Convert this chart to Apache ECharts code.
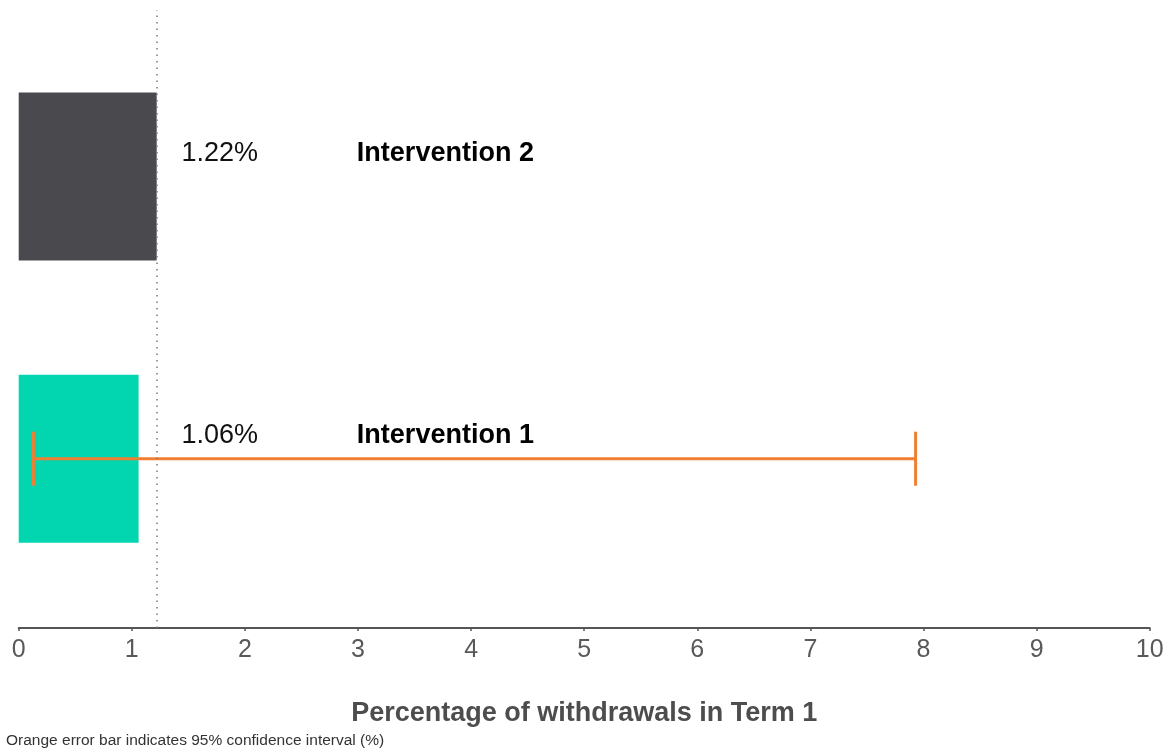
<!DOCTYPE html>
<html>
<head>
<meta charset="utf-8">
<title>Percentage of withdrawals in Term 1</title>
<script src="https://cdn.jsdelivr.net/npm/echarts@6/dist/echarts.min.js"></script>
<style>
  html, body { margin: 0; padding: 0; background: #ffffff; }
  #chart { width: 1172px; height: 752px; }
</style>
</head>
<body>
<div id="chart"></div>
<script>
// Groups, bottom to top
const categories = ['Intervention 1', 'Intervention 2'];
// Withdrawal rate (%) per group
const values = [1.06, 1.22];
// 95% confidence interval (%) — only shown for Intervention 1
const ciLow = [0.13, null];
const ciHigh = [7.93, null];
// Reference line at the Intervention 2 rate
const referenceValue = 1.22;
// X axis ticks
const xTicks = [0, 1, 2, 3, 4, 5, 6, 7, 8, 9, 10];

const barColors = ['#02D6B1', '#4A494E'];
const errorColor = '#F07F33';
const fontFamily = 'Liberation Sans, Arial, sans-serif';

// Label anchor positions along the x axis (data units)
const valueLabelX = 1.44;
const nameLabelX = 2.99;

const rows = categories.map((name, i) => ({
  name: name,
  pos: i + 1,
  value: values[i],
  low: ciLow[i],
  high: ciHigh[i]
}));

const chart = echarts.init(document.getElementById('chart'), null, { renderer: 'canvas' });

const option = {
  animation: false,
  backgroundColor: '#ffffff',
  textStyle: { fontFamily: fontFamily },
  grid: { left: 18.7, right: 22.3, top: 10, bottom: 124, containLabel: false },
  xAxis: {
    type: 'value',
    min: xTicks[0],
    max: xTicks[xTicks.length - 1],
    interval: 1,
    splitLine: { show: false },
    axisLine: { show: true, lineStyle: { color: '#555555', width: 2 } },
    axisTick: { show: true, length: 3, lineStyle: { color: '#555555', width: 1.5 } },
    axisLabel: { color: '#595959', fontSize: 25, margin: 10 },
    name: 'Percentage of withdrawals in Term 1',
    nameLocation: 'middle',
    nameGap: 72,
    nameTextStyle: { color: '#4d4d4d', fontSize: 27, fontWeight: 'bold' }
  },
  yAxis: {
    type: 'value',
    min: 0.4,
    max: 2.59,
    show: false
  },
  series: [
    {
      // Bars
      type: 'custom',
      name: 'bars',
      data: rows.map(r => [r.value, r.pos]),
      renderItem: function (params, api) {
        const v = api.value(0);
        const p = api.value(1);
        const start = api.coord([0, p]);
        const end = api.coord([v, p]);
        const h = 168;
        return {
          type: 'rect',
          shape: { x: start[0], y: start[1] - h / 2, width: end[0] - start[0], height: h },
          style: { fill: barColors[params.dataIndex] }
        };
      },
      markLine: {
        silent: true,
        symbol: 'none',
        label: { show: false },
        lineStyle: { color: '#7a7a7a', width: 1.5, type: [1.5, 5] },
        data: [{ xAxis: referenceValue }]
      },
      z: 2
    },
    {
      // Error bar (95% CI)
      type: 'custom',
      name: 'ci',
      data: rows.filter(r => r.low != null).map(r => [r.low, r.high, r.pos]),
      renderItem: function (params, api) {
        const lo = api.coord([api.value(0), api.value(2)]);
        const hi = api.coord([api.value(1), api.value(2)]);
        const cap = 27;
        const style = { stroke: errorColor, lineWidth: 3 };
        return {
          type: 'group',
          children: [
            { type: 'line', shape: { x1: lo[0], y1: lo[1], x2: hi[0], y2: hi[1] }, style: style },
            { type: 'line', shape: { x1: lo[0], y1: lo[1] - cap, x2: lo[0], y2: lo[1] + cap }, style: style },
            { type: 'line', shape: { x1: hi[0], y1: hi[1] - cap, x2: hi[0], y2: hi[1] + cap }, style: style }
          ]
        };
      },
      z: 4
    },
    {
      // Value and group labels
      type: 'custom',
      name: 'labels',
      data: rows.map(r => [r.value, r.pos]),
      renderItem: function (params, api) {
        const p = api.value(1);
        const v = api.value(0);
        const a = api.coord([valueLabelX, p]);
        const b = api.coord([nameLabelX, p]);
        return {
          type: 'group',
          children: [
            {
              type: 'text',
              x: a[0], y: a[1] - 23,
              style: {
                text: v.toFixed(2) + '%',
                fill: '#111111',
                fontSize: 27,
                fontFamily: fontFamily,
                verticalAlign: 'middle',
                align: 'left'
              }
            },
            {
              type: 'text',
              x: b[0], y: b[1] - 23,
              style: {
                text: categories[params.dataIndex],
                fill: '#000000',
                fontSize: 27,
                fontWeight: 'bold',
                fontFamily: fontFamily,
                verticalAlign: 'middle',
                align: 'left'
              }
            }
          ]
        };
      },
      z: 5
    }
  ],
  graphic: [
    {
      type: 'text',
      left: 6,
      top: 733,
      style: {
        text: 'Orange error bar indicates 95% confidence interval (%)',
        fill: '#333333',
        fontSize: 15.5,
        fontFamily: fontFamily
      }
    }
  ]
};

chart.setOption(option);
</script>
</body>
</html>
